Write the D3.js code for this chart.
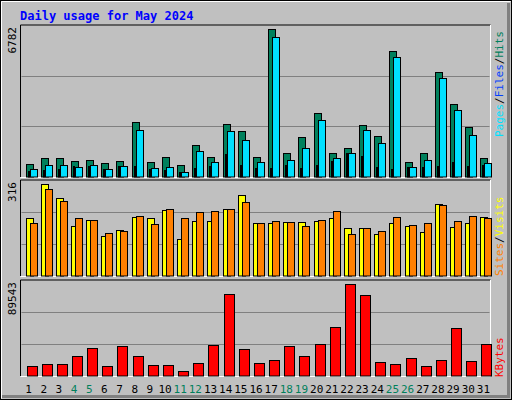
<!DOCTYPE html><html><head><meta charset="utf-8">
<script src="https://cdn.jsdelivr.net/npm/d3@7"></script>
<style>body{margin:0;background:#fff}svg{display:block}</style></head><body>
<script>
const days = d3.range(1,32);
const weekends = [4,5,11,12,18,19,25,26];
const hits = [583,859,859,721,767,629,721,2512,675,905,537,1456,905,2420,2099,905,6782,1088,1823,2925,1088,1318,2374,1869,5772,675,1088,4808,3338,2282,859];
const files = [354,537,537,445,537,354,491,2144,400,445,216,1180,675,2099,1685,675,6415,767,1318,2604,859,1088,2144,1548,5497,445,767,4532,3063,1915,629];
const pages = [262,306,354,491,491,354,491,491,354,306,216,400,491,1042,537,400,400,537,400,537,721,1088,950,445,354,445,445,491,675,491,537];
const sites = [199,316,268,172,192,137,158,203,199,227,127,189,189,230,278,182,182,185,185,189,199,165,165,144,182,172,151,247,168,182,203];
const visits = [182,299,258,199,192,148,155,206,179,230,199,220,223,230,254,182,189,185,172,192,223,144,165,155,203,175,182,244,189,206,199];
const kbytes = [10131,12092,12092,19935,26798,10131,28758,19935,11111,11111,5229,13072,29739,79739,25817,13072,16013,28758,19935,30719,47386,89543,78759,14052,12092,17974,10131,16013,46405,15033,30719];
const maxLabels = ["6782","316","89543"];

const W=512,H=400;
const svg=d3.select("body").append("svg").attr("width",W).attr("height",H);
svg.append("rect").attr("width",W).attr("height",H).attr("fill","#c0c0c0");
// outer bevel
svg.append("rect").attr("x",0.5).attr("y",0.5).attr("width",W-1).attr("height",H-1).attr("fill","none").attr("stroke","#000");
svg.append("path").attr("d","M1.5,398.5V1.5H510.5").attr("stroke","#fff").attr("fill","none");
svg.append("path").attr("d","M2,396.5H508.5V3").attr("stroke","#808080").attr("stroke-width",3).attr("fill","none");
svg.append("text").attr("x",20).attr("y",20).text("Daily usage for May 2024")
  .attr("font-family","DejaVu Sans Mono").attr("font-weight","bold").attr("font-size",12).attr("fill","#0000ff");

const X0=20.5,X1=490.5;
const x=d3.scaleBand().domain(days).range([X0,X1]);
const font="DejaVu Sans Mono";
function panel(top,bot,maxv,label){
  svg.append("line").attr("x1",X0).attr("x2",X1).attr("y1",top).attr("y2",top).attr("stroke","#000");
  svg.append("line").attr("x1",X0).attr("x2",X0).attr("y1",top).attr("y2",bot).attr("stroke","#000");
  svg.append("line").attr("x1",X0).attr("x2",X1).attr("y1",bot+0.5).attr("y2",bot+0.5).attr("stroke","#fff");
  svg.append("line").attr("x1",X1).attr("x2",X1).attr("y1",top).attr("y2",bot+0.5).attr("stroke","#fff");
  const h=bot-top, y=d3.scaleLinear().domain([0,maxv*(h)/(h-4)]).range([bot,top]);
  [1,2].forEach(i=>{const gy=Math.round(bot-h*i/3)+0.5;
    svg.append("line").attr("x1",X0+1).attr("x2",X1-1).attr("y1",gy).attr("y2",gy).attr("stroke","#808080");});
  svg.append("text").attr("transform",`translate(16,${top+2}) rotate(-90)`).attr("text-anchor","end")
    .attr("font-family",font).attr("font-size",11).attr("fill","#000").text(label);
  return y;
}
function bars(y,data,off,w,color,bot){
  svg.append("g").selectAll("rect").data(data).join("rect")
    .attr("x",(d,i)=>Math.round(x(days[i])+off)+0.5).attr("width",w)
    .attr("y",d=>Math.round(y(d))+0.5).attr("height",d=>bot-Math.round(y(d))-0.5)
    .attr("fill",color).attr("stroke","#000");
}
const y1=panel(25,177,6782,maxLabels[0]);
bars(y1,hits,5,7,"#00805c",177);
bars(y1,files,9,7,"#00e0ff",177);
bars(y1,pages,7,1,"#0040ff",177);
const y2=panel(180,276,316,maxLabels[1]);
bars(y2,sites,5,7,"#ffff00",276);
bars(y2,visits,9,7,"#ff8000",276);
const y3=panel(280,376,89543,maxLabels[2]);
bars(y3,kbytes,6,10,"#ff0000",376);

svg.append("g").selectAll("text").data(days).join("text")
  .attr("x",d=>x(d)+x.bandwidth()/2+0.5).attr("y",393).attr("text-anchor","middle")
  .attr("font-family",font).attr("font-size",11)
  .attr("fill",d=>weekends.includes(d)?"#00805c":"#000").text(d=>d);

function rlabel(yb,parts){
  const t=svg.append("text").attr("transform",`translate(503,${yb}) rotate(-90)`)
    .attr("font-family",font).attr("font-size",11);
  parts.forEach(([s,c])=>t.append("tspan").attr("fill",c).text(s));
}
rlabel(137,[["Pages","#00e0ff"],["/","#000"],["Files","#0040ff"],["/","#000"],["Hits","#00805c"]]);
rlabel(276,[["Sites","#ff8000"],["/","#000"],["Visits","#ffff00"]]);
rlabel(377,[["KBytes","#ff0000"]]);
</script></body></html>
